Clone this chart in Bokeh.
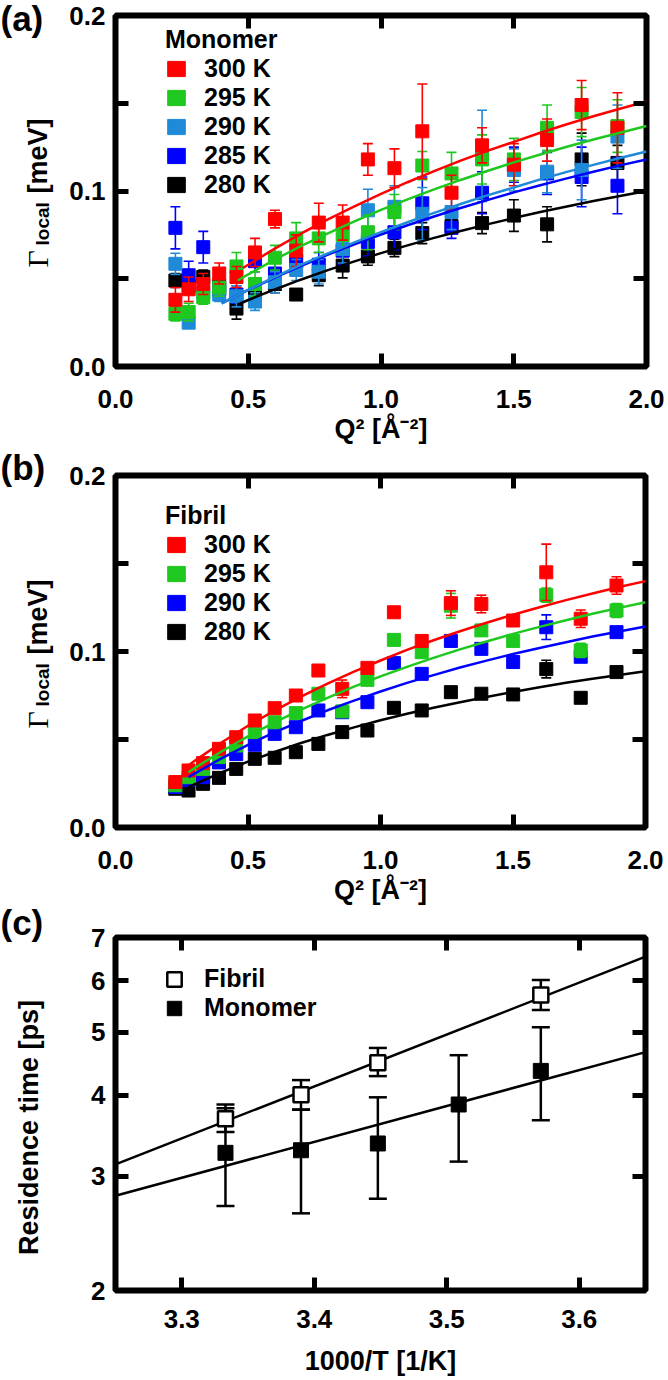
import math
from bokeh.plotting import figure
from bokeh.models import (FixedTicker, PrintfTickFormatter, CustomJSTickFormatter,
                          LinearAxis, LogAxis, Legend, LegendItem, ColumnDataSource)
from bokeh.core.properties import value
from bokeh.layouts import column, row
from bokeh.embed import file_html
from bokeh.resources import INLINE

FONT = "Liberation Sans"
SERIF = "Liberation Serif"

# ---------------- data: panel (a) Monomer ----------------
q2 = [0.2256, 0.2756, 0.3306, 0.3906, 0.4556, 0.5256, 0.6006, 0.6806, 0.7656, 0.8556,
      0.9506, 1.0506, 1.1556, 1.2656, 1.3806, 1.5006, 1.6256, 1.7556, 1.8906]

mono_labels = ["300 K", "295 K", "290 K", "285 K", "280 K"]
mono_colors = ["#ff0000", "#1ec81e", "#1e8ad8", "#0000ff", "#000000"]

mono_300 = [0.038, 0.044, 0.047, 0.053, 0.051, 0.065, 0.084, 0.066, 0.082, 0.082,
            0.118, 0.113, 0.134, 0.099, 0.126, 0.115, 0.129, 0.149, 0.136]
mono_300_err = [0.007, 0.007, 0.006, 0.006, 0.006, 0.008, 0.005, 0.009, 0.011, 0.010,
                0.009, 0.011, 0.027, 0.010, 0.010, 0.012, 0.012, 0.014, 0.020]
mono_295 = [0.030, 0.031, 0.0395, 0.045, 0.057, 0.047, 0.062, 0.073, 0.073, 0.075,
            0.0765, 0.088, 0.1145, 0.110, 0.118, 0.118, 0.136, 0.145, 0.137]
mono_295_err = [0.004, 0.005, 0.004, 0.005, 0.008, 0.007, 0.007, 0.009, 0.008, 0.008,
                0.010, 0.010, 0.008, 0.012, 0.014, 0.012, 0.013, 0.014, 0.015]
mono_290 = [0.0585, 0.025, 0.042, 0.041, 0.040, 0.037, 0.048, 0.055, 0.054, 0.067,
            0.089, 0.091, 0.087, 0.088, 0.120, 0.112, 0.111, 0.112, 0.131]
mono_290_err = [0.006, 0.003, 0.005, 0.004, 0.006, 0.005, 0.006, 0.006, 0.007, 0.008,
                0.012, 0.012, 0.015, 0.010, 0.026, 0.012, 0.012, 0.017, 0.018]
mono_285 = [0.079, 0.052, 0.068, 0.044, 0.041, 0.060, 0.053, 0.060, 0.058, 0.066,
            0.071, 0.0765, 0.093, 0.079, 0.099, 0.115, 0.110, 0.108, 0.103]
mono_285_err = [0.012, 0.008, 0.009, 0.006, 0.005, 0.006, 0.006, 0.007, 0.007, 0.008,
                0.008, 0.010, 0.015, 0.006, 0.012, 0.010, 0.012, 0.017, 0.016]
mono_280 = [0.049, 0.046, 0.051, 0.046, 0.033, 0.042, 0.047, 0.041, 0.052, 0.0575,
            0.0627, 0.0676, 0.076, 0.080, 0.0817, 0.086, 0.081, 0.118, 0.116]
mono_280_err = [0.004, 0.005, 0.004, 0.005, 0.006, 0.005, 0.005, 0.003, 0.006, 0.007,
                0.005, 0.005, 0.006, 0.004, 0.006, 0.009, 0.010, 0.015, 0.010]

# fitted curves (a)
fit_a_300_x = [0.48, 0.5, 0.6, 0.7, 0.8, 0.9, 1.0, 1.1, 1.2, 1.3, 1.4, 1.5, 1.6, 1.7, 1.8, 1.9, 2.0]
fit_a_300_y = [0.0561, 0.058, 0.0672, 0.0758, 0.0838, 0.0913, 0.0984, 0.105, 0.1113, 0.1173,
               0.1229, 0.128, 0.1332, 0.138, 0.1426, 0.1469, 0.151]
fit_a_295_x = [0.46, 0.5, 0.6, 0.7, 0.8, 0.9, 1.0, 1.1, 1.2, 1.3, 1.4, 1.5, 1.6, 1.7, 1.8, 1.9, 2.0]
fit_a_295_y = [0.049, 0.0525, 0.0609, 0.0687, 0.0759, 0.0827, 0.0892, 0.0952, 0.1009, 0.1063,
               0.1114, 0.1163, 0.1208, 0.1252, 0.1293, 0.1332, 0.137]
fit_a_290_x = [0.4, 0.5, 0.6, 0.7, 0.8, 0.9, 1.0, 1.1, 1.2, 1.3, 1.4, 1.5, 1.6, 1.7, 1.8, 1.9, 2.0]
fit_a_290_y = [0.036, 0.0437, 0.051, 0.058, 0.0645, 0.0707, 0.0766, 0.0822, 0.0875, 0.0926,
               0.0975, 0.102, 0.1066, 0.1109, 0.1149, 0.1188, 0.1225]
fit_a_285_x = [0.4, 0.5, 0.6, 0.7, 0.8, 0.9, 1.0, 1.1, 1.2, 1.3, 1.4, 1.5, 1.6, 1.7, 1.8, 1.9, 2.0]
fit_a_285_y = [0.036, 0.0436, 0.0507, 0.0573, 0.0637, 0.0696, 0.0752, 0.0805, 0.0855, 0.0903,
               0.0948, 0.0992, 0.1033, 0.1072, 0.111, 0.1146, 0.118]
fit_a_280_x = [0.46, 0.5, 0.6, 0.7, 0.8, 0.9, 1.0, 1.1, 1.2, 1.3, 1.4, 1.5, 1.6, 1.7, 1.8, 1.9, 2.0]
fit_a_280_y = [0.0353, 0.0379, 0.0439, 0.0496, 0.0549, 0.0599, 0.0646, 0.069, 0.0733, 0.0772,
               0.081, 0.0846, 0.088, 0.0912, 0.0943, 0.0972, 0.100]

# ---------------- data: panel (b) Fibril ----------------
fib_labels = ["300 K", "295 K", "290 K", "280 K"]
fib_colors = ["#ff0000", "#1ec81e", "#0000ff", "#000000"]

fib_300 = [0.0258, 0.0324, 0.0366, 0.0447, 0.0513, 0.0608, 0.0678, 0.075, 0.0892, 0.0788,
           0.0907, 0.1223, 0.106, 0.1275, 0.127, 0.1176, 0.145, 0.1186, 0.1375]
fib_300_err = [0.002, 0.002, 0.002, 0.002, 0.002, 0.002, 0.002, 0.002, 0.002, 0.005,
               0.002, 0.003, 0.002, 0.007, 0.005, 0.002, 0.016, 0.005, 0.005]
fib_295 = [0.024, 0.0286, 0.0333, 0.040, 0.0466, 0.0542, 0.0598, 0.065, 0.076, 0.066,
           0.0839, 0.1066, 0.0996, 0.126, 0.112, 0.106, 0.132, 0.1006, 0.1233]
fib_295_err = [0.002, 0.002, 0.002, 0.002, 0.002, 0.002, 0.002, 0.002, 0.002, 0.003,
               0.002, 0.002, 0.002, 0.007, 0.003, 0.002, 0.004, 0.004, 0.004]
fib_290 = [0.023, 0.027, 0.0286, 0.037, 0.0418, 0.047, 0.0532, 0.057, 0.0665, 0.0655,
           0.0712, 0.0934, 0.0873, 0.106, 0.1015, 0.094, 0.1138, 0.097, 0.111]
fib_290_err = [0.002, 0.002, 0.002, 0.002, 0.002, 0.002, 0.002, 0.002, 0.002, 0.002,
               0.002, 0.002, 0.002, 0.003, 0.002, 0.002, 0.007, 0.002, 0.003]
fib_280 = [0.022, 0.021, 0.0248, 0.0282, 0.0333, 0.039, 0.0396, 0.0428, 0.0475, 0.0542,
           0.0551, 0.068, 0.0665, 0.0769, 0.076, 0.0756, 0.090, 0.0737, 0.0883]
fib_280_err = [0.002, 0.002, 0.002, 0.002, 0.002, 0.002, 0.002, 0.002, 0.002, 0.002,
               0.002, 0.002, 0.002, 0.002, 0.002, 0.002, 0.005, 0.002, 0.002]

fit_b_x = [0.275, 0.3, 0.4, 0.5, 0.6, 0.7, 0.8, 0.9, 1.0, 1.1, 1.2, 1.3, 1.4, 1.5, 1.6, 1.7, 1.8, 1.9, 2.0]
fit_b_300_y = [0.0352, 0.038, 0.0483, 0.0578, 0.0664, 0.0744, 0.0818, 0.0886, 0.0949, 0.1009,
               0.1064, 0.1115, 0.1163, 0.1209, 0.1251, 0.1292, 0.133, 0.1366, 0.140]
fit_b_295_y = [0.0314, 0.0339, 0.0432, 0.0518, 0.0597, 0.067, 0.0737, 0.08, 0.0859, 0.0913,
               0.0964, 0.1012, 0.1057, 0.11, 0.114, 0.1178, 0.1214, 0.1248, 0.128]
fit_b_290_y = [0.0286, 0.0308, 0.0393, 0.047, 0.054, 0.0605, 0.0666, 0.0721, 0.0773, 0.0822,
               0.0866, 0.0909, 0.0948, 0.0986, 0.102, 0.1053, 0.1085, 0.1114, 0.1142]
fit_b_280_y = [0.0229, 0.0247, 0.0313, 0.0374, 0.0429, 0.048, 0.0526, 0.0569, 0.0609, 0.0646,
               0.068, 0.0712, 0.0742, 0.077, 0.0797, 0.0822, 0.0845, 0.0867, 0.0888]

# ---------------- data: panel (c) residence time ----------------
fib_invT = [3.333, 3.390, 3.448, 3.571]
fib_tau = [3.68, 4.005, 4.49, 5.71]
fib_tau_lo = [3.51, 3.80, 4.28, 5.41]
fib_tau_hi = [3.87, 4.22, 4.73, 6.02]
mono_invT = [3.333, 3.390, 3.448, 3.509, 3.571]
mono_tau = [3.26, 3.29, 3.37, 3.87, 4.36]
mono_tau_lo = [2.70, 2.63, 2.77, 3.16, 3.66]
mono_tau_hi = [3.82, 3.80, 3.97, 4.61, 5.09]
fit_c_x = [3.25, 3.65]
fit_c_fib = [3.13, 6.54]
fit_c_mono = [2.80, 4.66]

q_ticks = [0.0, 0.5, 1.0, 1.5, 2.0]
g_ticks = [0.0, 0.1, 0.2]
g_minor = [0.05, 0.15]
c_xticks = [3.3, 3.4, 3.5, 3.6]
c_yticks = [2, 3, 4, 5, 6, 7]

TICK_SIZE = "26px"
TITLE_SIZE = "27px"
LEG_SIZE = "25px"


def new_panel(fw, fh, left, top, right, bottom, xr, yr, ytype="linear"):
    p = figure(frame_width=fw, frame_height=fh, x_range=xr, y_range=yr, y_axis_type=ytype,
               output_backend="svg", toolbar_location=None,
               min_border_left=left, min_border_top=top, min_border_right=right,
               min_border_bottom=bottom)
    p.grid.visible = False
    p.outline_line_color = "black"
    p.outline_line_width = 6
    p.background_fill_color = "white"
    p.border_fill_color = "white"
    return p


def style_axis(ax, ticker, fmt, standoff, visible_labels=True):
    ax.ticker = ticker
    ax.formatter = fmt
    ax.axis_line_color = None
    ax.major_tick_in = 13
    ax.major_tick_out = 0
    ax.minor_tick_in = 13
    ax.minor_tick_out = 0
    ax.major_tick_line_width = 5
    ax.minor_tick_line_width = 5
    ax.major_tick_line_color = "black"
    ax.minor_tick_line_color = "black"
    ax.major_label_standoff = standoff
    ax.major_label_text_font = FONT
    ax.major_label_text_font_style = "bold"
    ax.major_label_text_color = "black"
    ax.major_label_text_font_size = TICK_SIZE if visible_labels else "0px"


def axis_title(ax, text, standoff):
    ax.axis_label = text
    ax.axis_label_text_font = FONT
    ax.axis_label_text_font_style = "bold"
    ax.axis_label_text_font_size = TITLE_SIZE
    ax.axis_label_text_color = "black"
    ax.axis_label_standoff = standoff


def add_frame_axes(p, xt, yt, log_y=False):
    top = LinearAxis()
    style_axis(top, xt, CustomJSTickFormatter(code="return ''"), 0, False)
    p.add_layout(top, "above")
    right = LogAxis() if log_y else LinearAxis()
    style_axis(right, yt, CustomJSTickFormatter(code="return ''"), 0, False)
    p.add_layout(right, "right")


def series(p, x, y, err, color, size=13, cap=10, lw=1.6):
    lo = [a - e for a, e in zip(y, err)]
    hi = [a + e for a, e in zip(y, err)]
    src = ColumnDataSource(dict(x=x, y=y, lo=lo, hi=hi))
    p.segment(x0="x", y0="lo", x1="x", y1="hi", source=src, line_color=color, line_width=lw)
    p.scatter("x", "lo", source=src, marker="dash", size=cap, line_color=color, line_width=lw)
    p.scatter("x", "hi", source=src, marker="dash", size=cap, line_color=color, line_width=lw)
    return p.rect("x", "y", width=size, height=size, width_units="screen", height_units="screen",
                  source=src, fill_color=color, line_color=color)


def make_legend(p, items, loc, title=None, gw=22, gh=19, standoff=17):
    leg = Legend(items=items, location=loc, orientation="vertical",
                 glyph_width=gw, glyph_height=gh, label_height=20, spacing=0, padding=0, margin=0,
                 label_standoff=standoff, border_line_color=None, background_fill_alpha=0,
                 label_text_font=FONT, label_text_font_style="bold", label_text_font_size=LEG_SIZE,
                 label_text_color="black")
    if title:
        leg.title = title
        leg.title_text_font = FONT
        leg.title_text_font_style = "bold"
        leg.title_text_font_size = LEG_SIZE
        leg.title_text_color = "black"
        leg.title_standoff = 0
    p.add_layout(leg)


def q_panel(fh, left, top, bottom, fw):
    p = new_panel(fw, fh, left, top, 608 - left - fw, bottom, (0, 2), (0, 0.2))
    xt = FixedTicker(ticks=q_ticks)
    yt = FixedTicker(ticks=g_ticks, minor_ticks=g_minor)
    style_axis(p.xaxis[0], xt, PrintfTickFormatter(format="%.1f"), 23)
    style_axis(p.yaxis[0], yt, PrintfTickFormatter(format="%.1f"), 10)
    axis_title(p.xaxis[0], "Q² [Å⁻²]", 3)
    add_frame_axes(p, xt, yt)
    return p


# ---------------- panel (a) ----------------
pa = q_panel(351, 54, 15, 80, 531)
mono_data = [(mono_300, mono_300_err, fit_a_300_x, fit_a_300_y),
             (mono_295, mono_295_err, fit_a_295_x, fit_a_295_y),
             (mono_290, mono_290_err, fit_a_290_x, fit_a_290_y),
             (mono_285, mono_285_err, fit_a_285_x, fit_a_285_y),
             (mono_280, mono_280_err, fit_a_280_x, fit_a_280_y)]
rends = {}
for i in reversed(range(5)):
    y, e, fx, fy = mono_data[i]
    rends[i] = series(pa, q2, y, e, mono_colors[i])
for i in reversed(range(5)):
    y, e, fx, fy = mono_data[i]
    pa.line(fx, fy, line_color=mono_colors[i], line_width=2.5)
make_legend(pa, [LegendItem(label=mono_labels[i], renderers=[rends[i]]) for i in range(5)],
            (50, 167), title="Monomer")

# ---------------- panel (b) ----------------
pb = q_panel(352, 55, 29, 80, 530)
fib_data = [(fib_300, fib_300_err, fit_b_300_y), (fib_295, fib_295_err, fit_b_295_y),
            (fib_290, fib_290_err, fit_b_290_y), (fib_280, fib_280_err, fit_b_280_y)]
rends_b = {}
for i in reversed(range(4)):
    y, e, fy = fib_data[i]
    rends_b[i] = series(pb, q2, y, e, fib_colors[i])
for i in reversed(range(4)):
    y, e, fy = fib_data[i]
    pb.line(fit_b_x, fy, line_color=fib_colors[i], line_width=2.5)
make_legend(pb, [LegendItem(label=fib_labels[i], renderers=[rends_b[i]]) for i in range(4)],
            (50, 181), title="Fibril")

# ---------------- panel (c) ----------------
pc = new_panel(530, 353, 55, 30, 23, 88, (3.25, 3.65), (2, 7), "log")
cxt = FixedTicker(ticks=c_xticks)
cyt = FixedTicker(ticks=c_yticks)
style_axis(pc.xaxis[0], cxt, PrintfTickFormatter(format="%.1f"), 19)
style_axis(pc.yaxis[0], cyt, PrintfTickFormatter(format="%d"), 10)
axis_title(pc.xaxis[0], "1000/T [1/K]", 15)
add_frame_axes(pc, cxt, cyt, log_y=True)

pc.line(fit_c_x, fit_c_fib, line_color="black", line_width=2.5)
pc.line(fit_c_x, fit_c_mono, line_color="black", line_width=2.5)

src_m = ColumnDataSource(dict(x=mono_invT, y=mono_tau, lo=mono_tau_lo, hi=mono_tau_hi))
pc.segment(x0="x", y0="lo", x1="x", y1="hi", source=src_m, line_color="black", line_width=2.5)
pc.scatter("x", "lo", source=src_m, marker="dash", size=18, line_color="black", line_width=2.5)
pc.scatter("x", "hi", source=src_m, marker="dash", size=18, line_color="black", line_width=2.5)
r_mono = pc.rect("x", "y", width=15, height=15, width_units="screen", height_units="screen",
                 source=src_m, fill_color="black", line_color="black")

src_f = ColumnDataSource(dict(x=fib_invT, y=fib_tau, lo=fib_tau_lo, hi=fib_tau_hi))
pc.segment(x0="x", y0="lo", x1="x", y1="hi", source=src_f, line_color="black", line_width=2.5)
pc.scatter("x", "lo", source=src_f, marker="dash", size=18, line_color="black", line_width=2.5)
pc.scatter("x", "hi", source=src_f, marker="dash", size=18, line_color="black", line_width=2.5)
r_fib = pc.rect("x", "y", width=15, height=15, width_units="screen", height_units="screen",
                source=src_f, fill_color="white", line_color="black", line_width=2.5)

make_legend(pc, [LegendItem(label="Fibril", renderers=[r_fib]),
                 LegendItem(label="Monomer", renderers=[r_mono])],
            (50, 268), gw=18, gh=18, standoff=21)

# ---------------- side strip with panel letters and y titles ----------------
H = 1378
side = figure(frame_width=60, frame_height=H, x_range=(0, 60), y_range=(0, H),
              output_backend="svg", toolbar_location=None, min_border=0,
              x_axis_location=None, y_axis_location=None)
side.outline_line_color = None
side.grid.visible = False
side.background_fill_color = "white"
side.border_fill_color = "white"


def stext(x, page_y, t, size, angle=0.0, font=FONT, style="bold", align="left", baseline="middle"):
    side.text(x=[x], y=[H - page_y], text=[t], angle=angle, text_font=value(font),
              text_font_size=value(size), text_font_style=value(style),
              text_align=value(align), text_baseline=value(baseline), text_color="black")


for dy in (0, 461):
    stext(37, 267 + dy, "Γ", "30px", math.pi / 2, SERIF, "normal", "left", "alphabetic")
    stext(42, 245 + dy, "local", "19px", math.pi / 2, FONT, "bold", "left", "alphabetic")
    stext(37, 193 + dy, "[meV]", "27px", math.pi / 2, FONT, "bold", "left", "alphabetic")
stext(28, 1127, "Residence time [ps]", "27px", math.pi / 2, align="center")
stext(0, 18, "(a)", "35px")
stext(0, 467, "(b)", "35px")
stext(0, 922, "(c)", "35px")

layout = row(side, column(pa, pb, pc, spacing=0), spacing=0)
open("out.html", "w").write(file_html(layout, INLINE))
